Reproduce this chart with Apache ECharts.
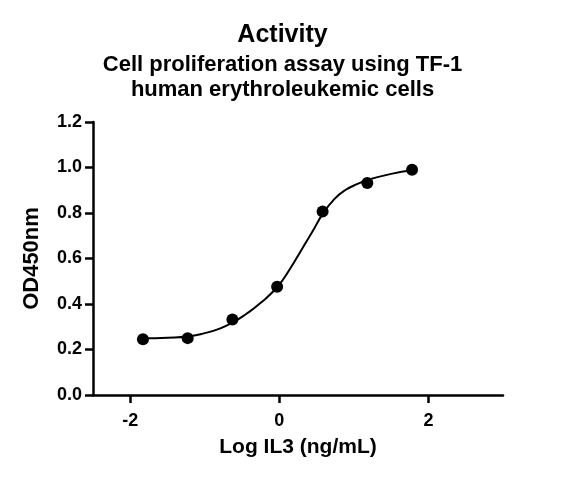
<!DOCTYPE html>
<html>
<head>
<meta charset="utf-8">
<script src="https://cdn.jsdelivr.net/npm/echarts@6/dist/echarts.min.js"></script>
<style>
  html, body { margin: 0; padding: 0; background: #fff; }
  #chart { width: 565px; height: 480px; }
</style>
</head>
<body>
<div id="chart"></div>
<script>
// measured points: log concentration vs OD450
const logDose = [-1.83, -1.23, -0.63, -0.03, 0.58, 1.18, 1.78];
const od450 = [0.245, 0.25, 0.332, 0.476, 0.807, 0.932, 0.99];

// fitted curve
const fitX = [-1.83, -1.5, -1.23, -1.0, -0.8, -0.63, -0.45, -0.25, -0.02, 0.15, 0.3, 0.45, 0.58, 0.74, 0.88, 1.05, 1.19, 1.5, 1.78];
const fitY = [0.249, 0.252, 0.257, 0.272, 0.292, 0.318, 0.355, 0.405, 0.478, 0.558, 0.64, 0.722, 0.795, 0.862, 0.9, 0.928, 0.946, 0.972, 0.988];

const xTicks = [-2, 0, 2];

const font = "Liberation Sans";
const chart = echarts.init(document.getElementById("chart"));

chart.setOption({
  animation: false,
  title: [
    {
      text: "Activity",
      left: "center",
      top: 18,
      textStyle: { fontFamily: font, fontSize: 25, fontWeight: "bold", color: "#000" }
    },
    {
      text: "Cell proliferation assay using TF-1\nhuman erythroleukemic cells",
      left: "center",
      top: 47,
      textStyle: { fontFamily: font, fontSize: 22, fontWeight: "bold", color: "#000", lineHeight: 25 }
    }
  ],
  grid: { left: 93, right: 62, top: 122, bottom: 85 },
  xAxis: {
    type: "value",
    min: -2.5,
    max: 3,
    name: "Log IL3 (ng/mL)",
    nameLocation: "middle",
    nameGap: 42,
    nameTextStyle: { fontFamily: font, fontSize: 21, fontWeight: "bold", color: "#000" },
    splitLine: { show: false },
    axisLine: { lineStyle: { color: "#000", width: 2.5 } },
    axisTick: { show: true, customValues: xTicks, length: 8, lineStyle: { color: "#000", width: 2.5 } },
    axisLabel: {
      customValues: xTicks,
      margin: 17,
      fontFamily: font, fontSize: 18, fontWeight: "bold", color: "#000"
    }
  },
  yAxis: {
    type: "value",
    min: 0,
    max: 1.2,
    interval: 0.2,
    name: "OD450nm",
    nameLocation: "middle",
    nameGap: 50,
    nameTextStyle: { fontFamily: font, fontSize: 22, fontWeight: "bold", color: "#000" },
    splitLine: { show: false },
    axisLine: { show: true, onZero: false, lineStyle: { color: "#000", width: 2.5 } },
    axisTick: { show: true, length: 8, lineStyle: { color: "#000", width: 2.5 } },
    axisLabel: {
      margin: 11,
      formatter: v => v.toFixed(1),
      fontFamily: font, fontSize: 18, fontWeight: "bold", color: "#000"
    }
  },
  series: [
    {
      name: "Fit",
      type: "line",
      data: fitX.map((x, i) => [x, fitY[i]]),
      smooth: 0.5,
      showSymbol: false,
      lineStyle: { color: "#000", width: 2 },
      z: 2
    },
    {
      name: "OD450",
      type: "scatter",
      data: logDose.map((x, i) => [x, od450[i]]),
      symbol: "circle",
      symbolSize: 12,
      itemStyle: { color: "#000", opacity: 1 },
      z: 3
    }
  ]
});
</script>
</body>
</html>
